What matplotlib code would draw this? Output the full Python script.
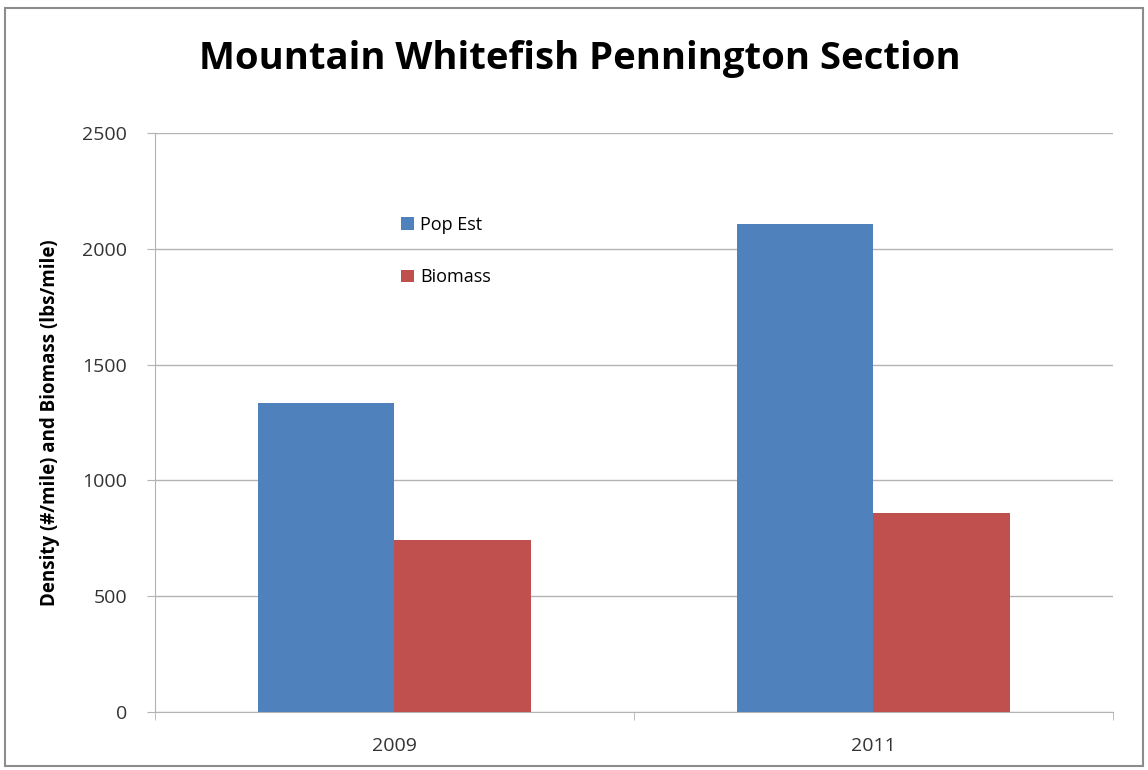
import numpy as np
import matplotlib.pyplot as plt
from matplotlib.patches import Rectangle

years = ['2009', '2011']
pop_est = [1335, 2107]
biomass = [743, 859]

blue = '#4f81bd'
red = '#c0504d'
grid_gray = '#b3b3b3'

plt.rcParams['font.family'] = ['Open Sans', 'DejaVu Sans']

fig = plt.figure(figsize=(11.48, 7.7), dpi=100)
ax = fig.add_axes([0.135, 0.0753, 0.8345, 0.7519])

# outer chart frame like the spreadsheet chart area
fig.patches.append(Rectangle((0.0045, 0.005), 0.991, 0.984, transform=fig.transFigure,
                             fill=False, edgecolor='#8c8c8c', linewidth=1.5))

x = np.arange(len(years))
w = 0.285
ax.bar(x - w / 2, pop_est, w, color=blue, label='Pop Est', zorder=3)
ax.bar(x + w / 2, biomass, w, color=red, label='Biomass', zorder=3)

ax.set_xlim(-0.5, 1.5)
ax.set_ylim(0, 2500)
ax.set_yticks(range(0, 2501, 500))
ax.set_xticks(x)
ax.set_xticklabels(years)
ax.set_xticks([-0.5, 0.5, 1.5], minor=True)
ax.tick_params(axis='x', which='major', length=0, pad=18, labelsize=14, colors='#333333')
ax.tick_params(axis='x', which='minor', length=6, color=grid_gray, direction='out')
ax.tick_params(axis='y', length=6, color=grid_gray, pad=14, labelsize=14, labelcolor='#333333')

ax.grid(axis='y', color=grid_gray, linewidth=1, zorder=0)
for s in ['top', 'right']:
    ax.spines[s].set_visible(False)
for s in ['left', 'bottom']:
    ax.spines[s].set_color(grid_gray)

ax.set_ylabel('Density (#/mile) and Biomass (lbs/mile)', fontsize=13.5, fontweight='bold', labelpad=16)
fig.suptitle('Mountain Whitefish Pennington Section', fontsize=27.5, fontweight='bold', x=0.505, y=0.948)

ax.legend(loc='upper left', bbox_to_anchor=(0.24, 0.885), frameon=False, fontsize=13,
          handlelength=0.7, handleheight=0.7, handletextpad=0.35, labelspacing=1.9)

fig.savefig('out.png', dpi=100)
